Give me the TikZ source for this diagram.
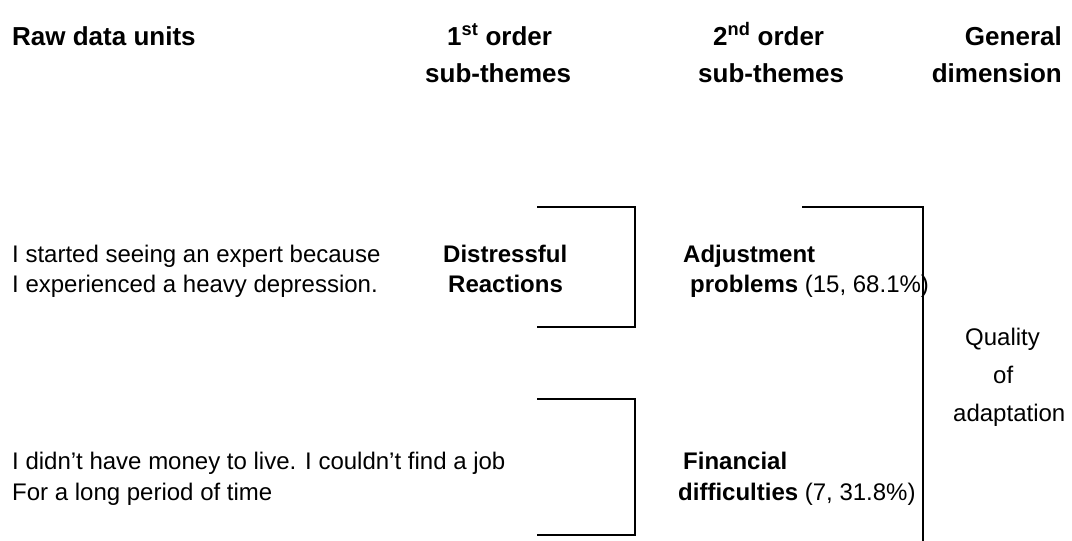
\documentclass[tikz,border=0pt]{standalone}
\usepackage{fontspec}
\setmainfont{Liberation Sans}
\begin{document}
\begin{tikzpicture}[x=1pt,y=-1pt,
  head/.style={inner sep=0pt,font=\fontsize{26}{30}\selectfont\bfseries},
  unit/.style={inner sep=0pt,anchor=base west,font=\fontsize{24}{28}\selectfont},
  theme/.style={unit,font=\fontsize{24}{28}\selectfont\bfseries},
  bracket/.style={line width=1.4pt,line cap=rect}]
\useasboundingbox (0,0) rectangle (1072,541);

% column headings
\node[head,anchor=base west] (hraw) at (12,45) {Raw data units};
\node[head,anchor=base west] (hfirst) at (447,45) {1\textsuperscript{st} order};
\node[head,anchor=base west] (hfirstb) at (425,82) {sub-themes};
\node[head,anchor=base west] (hsecond) at (713,45) {2\textsuperscript{nd} order};
\node[head,anchor=base west] (hsecondb) at (698,82) {sub-themes};
\node[head,anchor=base east] (hgen) at (1062,45) {General};
\node[head,anchor=base east] (hgenb) at (1062,82) {dimension};

% raw data units
\node[unit] (r1) at (12,262) {I started seeing an expert because};
\node[unit] (r2) at (12,292) {I experienced a heavy depression.};
\node[unit] (r3) at (12,469) {I didn’t have money to live. I couldn’t find a job};
\node[unit] (r4) at (12,500) {For a long period of time};

% first order sub-themes
\node[theme] (f1) at (443,262) {Distressful};
\node[theme] (f2) at (448,292) {Reactions};

% second order sub-themes
\node[theme] (s1) at (683,262) {Adjustment};
\node[theme] (s2) at (690,292) {problems \mdseries(15, 68.1\%)};
\node[theme] (s3) at (683,469) {Financial};
\node[theme] (s4) at (678,500) {difficulties \mdseries(7, 31.8\%)};

% general dimension
\node[unit] (g1) at (965,345) {Quality};
\node[unit] (g2) at (993,383) {of};
\node[unit] (g3) at (953,421) {adaptation};

% bracket corners
\coordinate (a1) at (538,207);
\coordinate (a2) at (635,207);
\coordinate (a3) at (635,327);
\coordinate (a4) at (538,327);
\coordinate (b1) at (538,399);
\coordinate (b2) at (635,399);
\coordinate (b3) at (635,535);
\coordinate (b4) at (538,535);
\coordinate (c1) at (803,207);
\coordinate (c2) at (923,207);
\coordinate (c3) at (923,541);

\draw[bracket] (a1) -- (a2) -- (a3) -- (a4);
\draw[bracket] (b1) -- (b2) -- (b3) -- (b4);
\draw[bracket] (c1) -- (c2) -- (c3);
\end{tikzpicture}
\end{document}
